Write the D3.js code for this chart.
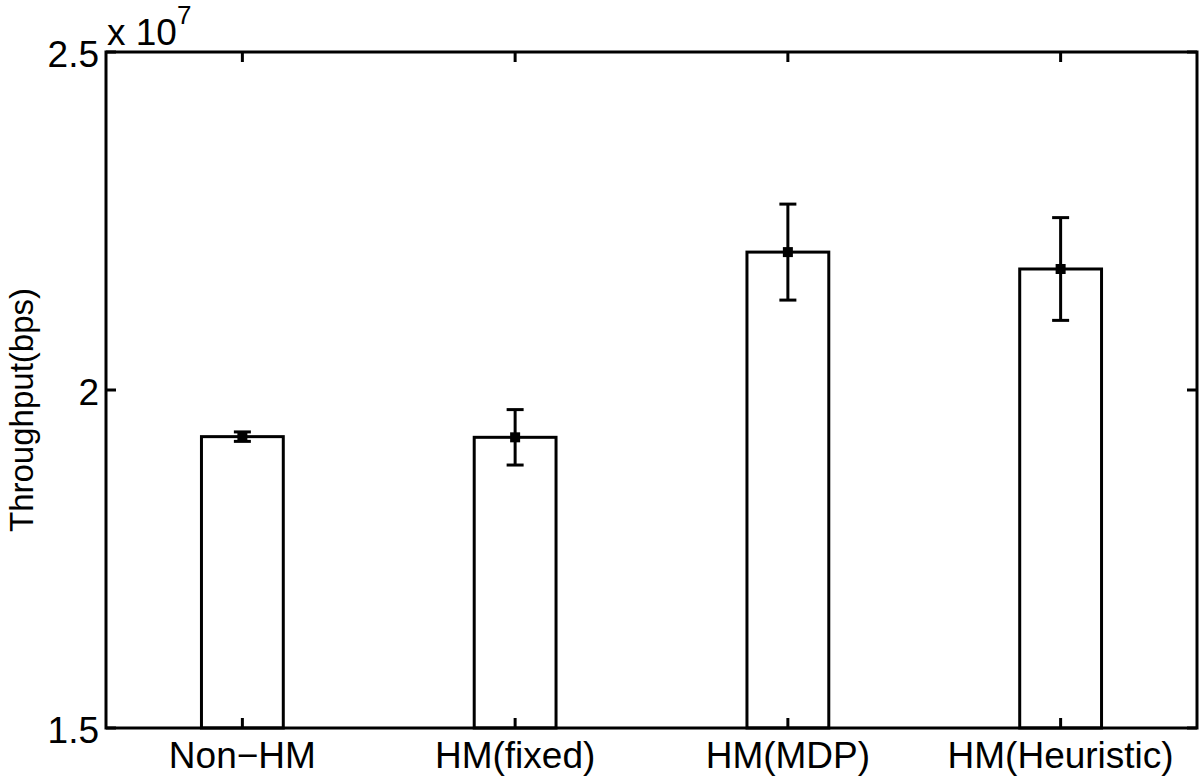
<!DOCTYPE html>
<html>
<head>
<meta charset="utf-8">
<script src="https://cdn.jsdelivr.net/npm/d3@7"></script>
<style>
  body { margin: 0; background: #fff; }
  text { font-family: "Liberation Sans", Arial, Helvetica, sans-serif; fill: #000; }
</style>
</head>
<body>
<div class="chart"></div>
<script>
// data, in units of 1e7 bps
var categories = ["Non\u2212HM", "HM(fixed)", "HM(MDP)", "HM(Heuristic)"];
var means = [1.931, 1.930, 2.204, 2.179];
var errors = [0.007, 0.041, 0.071, 0.076];
var yTicks = [1.5, 2, 2.5];

var width = 1200, height = 777;
var margin = {left: 106, right: 3, top: 52, bottom: 49};

var svg = d3.select(".chart").append("svg")
  .attr("width", width)
  .attr("height", height);

var x = d3.scaleLinear()
  .domain([0.5, categories.length + 0.5])
  .range([margin.left, width - margin.right]);

var y = d3.scaleLinear()
  .domain([1.5, 2.5])
  .range([height - margin.bottom, margin.top]);

var barW = (x(1) - x(0)) * 0.3;
var lw = 3;

// bars
svg.selectAll("rect.bar").data(means).enter().append("rect")
  .attr("class", "bar")
  .attr("x", function(d, i) { return x(i + 1) - barW / 2; })
  .attr("y", function(d) { return y(d); })
  .attr("width", barW)
  .attr("height", function(d) { return y(1.5) - y(d); })
  .attr("fill", "#fff")
  .attr("stroke", "#000")
  .attr("stroke-width", lw);

// error bars
var capW = 17;
var eb = svg.selectAll("g.err").data(means).enter().append("g").attr("class", "err");
eb.append("line")
  .attr("x1", function(d, i) { return x(i + 1); })
  .attr("x2", function(d, i) { return x(i + 1); })
  .attr("y1", function(d, i) { return y(d + errors[i]); })
  .attr("y2", function(d, i) { return y(d - errors[i]); })
  .attr("stroke", "#000").attr("stroke-width", lw);
[1, -1].forEach(function(s) {
  eb.append("line")
    .attr("x1", function(d, i) { return x(i + 1) - capW / 2; })
    .attr("x2", function(d, i) { return x(i + 1) + capW / 2; })
    .attr("y1", function(d, i) { return y(d + s * errors[i]); })
    .attr("y2", function(d, i) { return y(d + s * errors[i]); })
    .attr("stroke", "#000").attr("stroke-width", lw);
});
eb.append("rect")
  .attr("x", function(d, i) { return x(i + 1) - 5; })
  .attr("y", function(d) { return y(d) - 5; })
  .attr("width", 10).attr("height", 10)
  .attr("fill", "#000");

// ticks (inward, mirrored like matlab)
var tl = 10;
var yTop = y(2.5), yBot = y(1.5), xLeft = x(0.5), xRight = x(categories.length + 0.5);
categories.forEach(function(c, i) {
  svg.append("line").attr("x1", x(i + 1)).attr("x2", x(i + 1))
    .attr("y1", yBot).attr("y2", yBot - tl)
    .attr("stroke", "#000").attr("stroke-width", lw);
  svg.append("line").attr("x1", x(i + 1)).attr("x2", x(i + 1))
    .attr("y1", yTop).attr("y2", yTop + tl)
    .attr("stroke", "#000").attr("stroke-width", lw);
});
yTicks.forEach(function(t) {
  svg.append("line").attr("x1", xLeft).attr("x2", xLeft + tl)
    .attr("y1", y(t)).attr("y2", y(t))
    .attr("stroke", "#000").attr("stroke-width", lw);
  svg.append("line").attr("x1", xRight).attr("x2", xRight - tl)
    .attr("y1", y(t)).attr("y2", y(t))
    .attr("stroke", "#000").attr("stroke-width", lw);
});

// frame
svg.append("rect")
  .attr("x", xLeft).attr("y", yTop)
  .attr("width", xRight - xLeft).attr("height", yBot - yTop)
  .attr("fill", "none").attr("stroke", "#000").attr("stroke-width", lw);

// tick labels
svg.selectAll("text.ylab").data(yTicks).enter().append("text")
  .attr("class", "ylab")
  .attr("x", xLeft - 7)
  .attr("y", function(d) { return y(d) + 15; })
  .attr("text-anchor", "end")
  .attr("font-size", 37)
  .text(function(d) { return d3.format("")(d); });

svg.selectAll("text.xlab").data(categories).enter().append("text")
  .attr("class", "xlab")
  .attr("x", function(d, i) { return x(i + 1); })
  .attr("y", yBot + 40)
  .attr("text-anchor", "middle")
  .attr("font-size", 37)
  .text(function(d) { return d; });

// exponent
var ex = svg.append("text").attr("x", xLeft + 1).attr("y", 45).attr("font-size", 37);
ex.append("tspan").text("x 10");
ex.append("tspan").attr("font-size", 26).attr("dy", -21).text("7");

// y label
svg.append("text")
  .attr("transform", "translate(33,410) rotate(-90)")
  .attr("text-anchor", "middle")
  .attr("font-size", 33)
  .text("Throughput(bps)");
</script>
</body>
</html>
